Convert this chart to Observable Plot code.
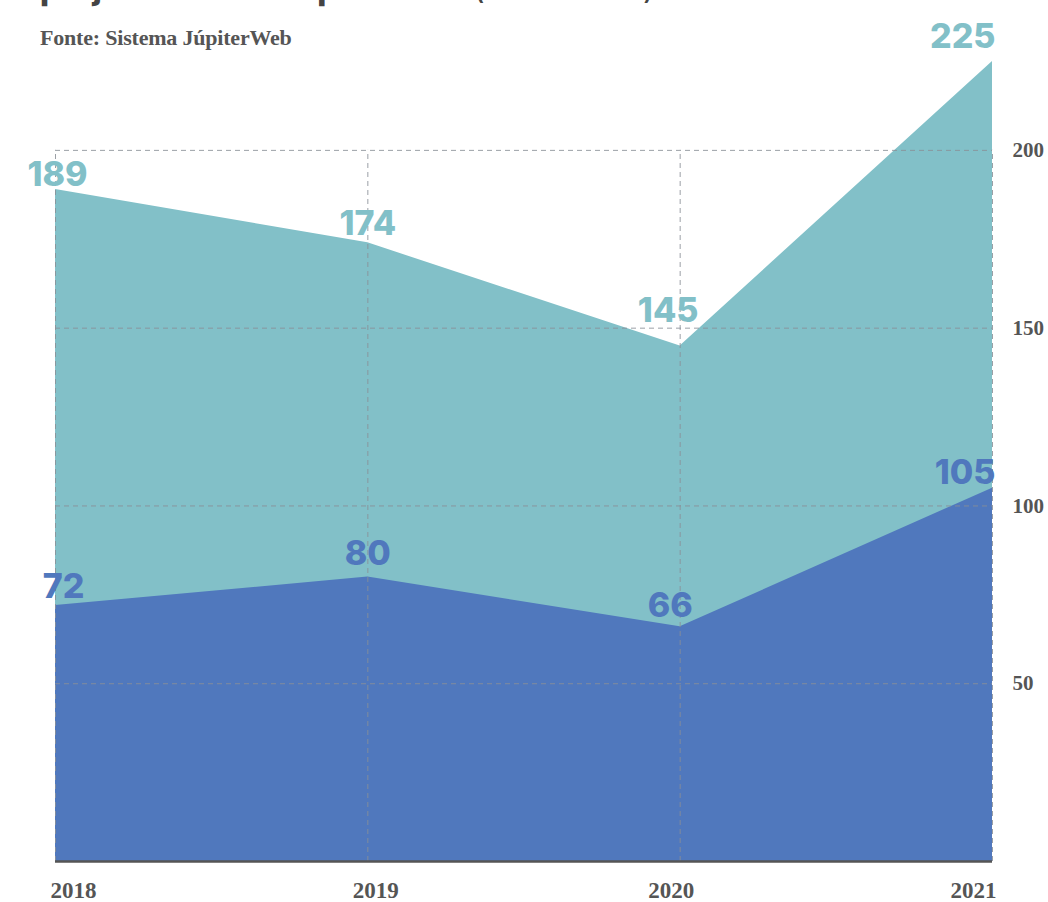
<!DOCTYPE html>
<html>
<head>
<meta charset="utf-8">
<script src="https://cdn.jsdelivr.net/npm/d3@7"></script>
<script src="https://cdn.jsdelivr.net/npm/@observablehq/plot@0.6"></script>
<style>
  html, body { margin: 0; padding: 0; background: #fff; width: 1048px; height: 902px; overflow: hidden; }
  #wrap { position: relative; width: 1048px; height: 902px; }
  #title { position: absolute; left: 40px; top: -31px; font-family: Inter, "Open Sans", sans-serif; font-weight: 800; font-size: 32px; color: #444; white-space: nowrap; }
  #title span { font-weight: 400; }
  #sub { position: absolute; left: 40px; top: 25px; font-family: "Liberation Serif", serif; font-weight: bold; font-size: 22px; color: #555; white-space: nowrap; letter-spacing: -0.2px; }
  #chart { position: absolute; left: 0; top: 0; }
</style>
</head>
<body>
<div id="wrap">
  <div id="chart"></div>
  <div id="title">projetos da ECA aprovados <span>(2018-2021)</span></div>
  <div id="sub">Fonte: Sistema JúpiterWeb</div>
</div>
<script>
const years = [2018, 2019, 2020, 2021];
const total = [189, 174, 145, 225];
const aprovados = [72, 80, 66, 105];
const yTicks = [50, 100, 150, 200];

const teal = "#82c0c8";
const blue = "#5078bd";

const data = years.map((y, i) => ({year: y, total: total[i], aprov: aprovados[i]}));

const serif = "'Liberation Serif', serif";
const sans = "Inter, 'Open Sans', sans-serif";

// per-point label offsets (styling)
const totalOff = [{dx: 2, dy: -4, anchor: "middle"}, {dx: 0, dy: -8, anchor: "middle"}, {dx: -12, dy: -24, anchor: "middle"}, {dx: 3, dy: -14, anchor: "end"}];
const aprovOff = [{dx: 8, dy: -8, anchor: "middle"}, {dx: 0, dy: -12, anchor: "middle"}, {dx: -10, dy: -10, anchor: "middle"}, {dx: 3, dy: -4, anchor: "end"}];
const xLabOff = [{dx: -5, anchor: "start"}, {dx: 8, anchor: "middle"}, {dx: -9, anchor: "middle"}, {dx: 4, anchor: "end"}];

const marks = [
  Plot.areaY(data, {x: "year", y: "total", fill: teal, curve: "linear"}),
  Plot.areaY(data, {x: "year", y: "aprov", fill: blue, curve: "linear"}),
  Plot.ruleY(yTicks, {x1: years[0], x2: years[years.length - 1], stroke: "#8a8f96", strokeOpacity: 0.85, strokeWidth: 1, strokeDasharray: "5,4"}),
  Plot.ruleX(years, {y1: 0, y2: 200, stroke: "#8a8f96", strokeOpacity: 0.85, strokeWidth: 1, strokeDasharray: "5,4"}),
  Plot.ruleY([0], {x1: years[0], x2: years[years.length - 1], stroke: "#555", strokeWidth: 2.5}),
  Plot.text(yTicks, {x: years[years.length - 1], y: d => d, text: d => String(d), textAnchor: "start", dx: 20, fontFamily: serif, fontWeight: "bold", fontSize: 21, fill: "#555"})
];

data.forEach((d, i) => {
  marks.push(Plot.text([d], {x: "year", y: "total", text: d => String(d.total), textAnchor: totalOff[i].anchor, lineAnchor: "bottom", dx: totalOff[i].dx, dy: totalOff[i].dy, fontFamily: sans, fontWeight: 800, fontSize: 34, fill: teal}));
  marks.push(Plot.text([d], {x: "year", y: "aprov", text: d => String(d.aprov), textAnchor: aprovOff[i].anchor, lineAnchor: "bottom", dx: aprovOff[i].dx, dy: aprovOff[i].dy, fontFamily: sans, fontWeight: 800, fontSize: 34, fill: blue}));
  marks.push(Plot.text([d], {x: "year", y: 0, text: d => String(d.year), textAnchor: xLabOff[i].anchor, lineAnchor: "middle", dx: xLabOff[i].dx, dy: 29, fontFamily: serif, fontWeight: "bold", fontSize: 23, fill: "#555"}));
});

const chart = Plot.plot({
  width: 1048,
  height: 902,
  marginLeft: 55,
  marginRight: 56,
  marginTop: 61,
  marginBottom: 41,
  x: {type: "linear", domain: [2018, 2021], axis: null},
  y: {domain: [0, 225], axis: null},
  style: {background: "transparent", overflow: "visible"},
  marks
});
document.getElementById("chart").appendChild(chart);
</script>
</body>
</html>
